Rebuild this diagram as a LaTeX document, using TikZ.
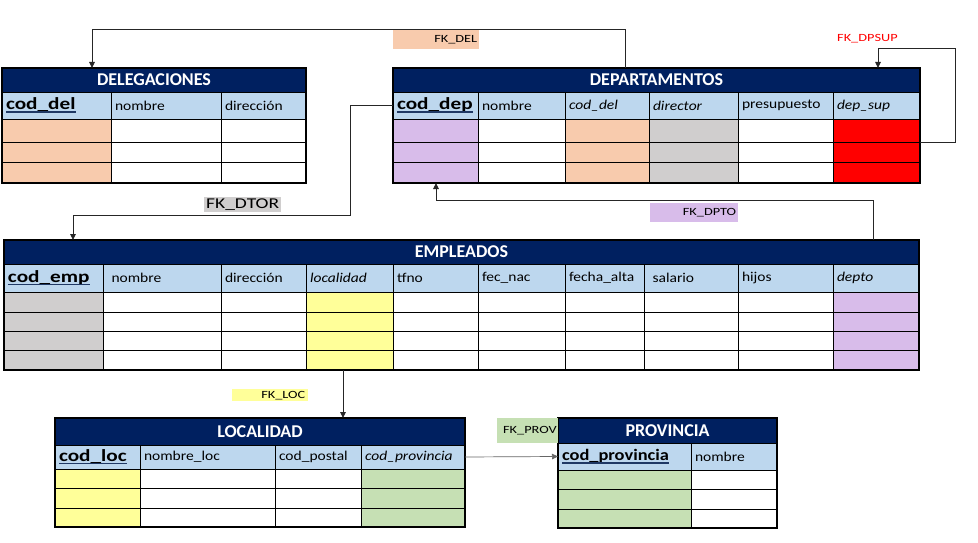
\documentclass[tikz,border=0pt]{standalone}
\usepackage{fontspec}
\setmainfont{Carlito}
\newfontfamily\wf[FakeStretch=1.15]{Carlito}
\newfontfamily\kf[FakeStretch=1.25]{Carlito}
\newfontfamily\lf[FakeStretch=1.3]{Carlito}
\usetikzlibrary{arrows.meta,calc}
\definecolor{navy}{HTML}{002060}
\definecolor{lblue}{HTML}{BDD7EE}
\definecolor{peach}{HTML}{F8CBAD}
\definecolor{lilac}{HTML}{D8BCEA}
\definecolor{cgray}{HTML}{D0CECE}
\definecolor{cyellow}{HTML}{FFFF99}
\definecolor{cgreen}{HTML}{C6E0B4}
\definecolor{ulblue}{HTML}{1F3864}
\newcommand\colfont{\wf\fontsize{13.5}{15}\selectfont}
\newcommand\colit{\wf\fontsize{13.5}{15}\selectfont\itshape}
\newcommand\keyfont{\kf\fontsize{17}{19}\selectfont\bfseries}
\newcommand\keyfontsm{\wf\fontsize{16}{18}\selectfont\bfseries}
\newcommand\fkfont{\lf\fontsize{11}{12}\selectfont}
\newcommand\keyul[1]{\setbox0=\hbox{#1}\rlap{\copy0}{\color{ulblue}\rule[-3pt]{\wd0}{1.6pt}}}
% name, x1, y1, x2, y2, fill, font, text
\newcommand\tc[8]{\node[cell, fill=#6, font=#7, minimum width={#4-#2}, minimum height={#5-#3}, text width={#4-#2-8}] (#1) at (#2,#3) {#8};}
\begin{document}
\begin{tikzpicture}[x=1pt,y=-1pt,
  cell/.style={draw=black, line width=0.8pt, anchor=north west, inner xsep=4pt, inner ysep=0pt, align=left, outer sep=0pt},
  hdr/.style={draw=black, line width=0.8pt, fill=navy, text=white, font=\fontsize{18}{20}\selectfont\bfseries, anchor=north west, inner sep=0pt, outer sep=0pt},
  fk/.style={draw=black!85, line width=0.9pt, -{Triangle[length=6pt,width=5.5pt]}},
  fklab/.style={anchor=north west, inner sep=0pt, font=\fkfont},
  frame/.style={draw=black, line width=1.3pt}
]
\useasboundingbox[fill=white] (0,0) rectangle (978,543);

% ---------------- DELEGACIONES
\node[hdr, minimum width=304, minimum height=24] (del-h) at (2,68) {DELEGACIONES};
\tc{del-0-1}{2}{92}{111}{119}{lblue}{\keyfont}{\keyul{cod\_del}}
\tc{del-0-2}{111}{92}{221}{119}{lblue}{\colfont}{nombre}
\tc{del-0-3}{221}{92}{306}{119}{lblue}{\colfont}{dirección}
\foreach \r/\ya/\yb in {1/119/142,2/142/162,3/162/183}{
  \foreach \c/\xa/\xb/\f in {1/2/111/peach,2/111/221/white,3/221/306/white}{
    \tc{del-\r-\c}{\xa}{\ya}{\xb}{\yb}{\f}{}{}
  }
}
\draw[frame] (del-h.north west) rectangle (del-3-3.south east);

% ---------------- DEPARTAMENTOS
\node[hdr, minimum width=527, minimum height=24] (dep-h) at (393,68) {DEPARTAMENTOS};
\tc{dep-0-1}{393}{92}{478}{119}{lblue}{\keyfont}{\keyul{cod\_dep}}
\tc{dep-0-2}{478}{92}{565}{119}{lblue}{\colfont}{nombre}
\tc{dep-0-3}{565}{92}{649}{119}{lblue}{\colit}{cod\_del}
\tc{dep-0-4}{649}{92}{738}{119}{lblue}{\colit}{director}
\tc{dep-0-5}{738}{92}{833}{119}{lblue}{\colfont}{presupuesto}
\tc{dep-0-6}{833}{92}{920}{119}{lblue}{\colit}{dep\_sup}
\foreach \r/\ya/\yb in {1/119/142,2/142/162,3/162/183}{
  \foreach \c/\xa/\xb/\f in {1/393/478/lilac,2/478/565/white,3/565/649/peach,4/649/738/cgray,5/738/833/white,6/833/920/red}{
    \tc{dep-\r-\c}{\xa}{\ya}{\xb}{\yb}{\f}{}{}
  }
}
\draw[frame] (dep-h.north west) rectangle (dep-3-6.south east);

% ---------------- EMPLEADOS
\node[hdr, minimum width=915, minimum height=24] (emp-h) at (4,240) {EMPLEADOS};
\tc{emp-0-1}{4}{264}{103}{292}{lblue}{\keyfont}{\keyul{cod\_emp}}
\tc{emp-0-2}{103}{264}{221}{292}{lblue}{\colfont}{\ nombre}
\tc{emp-0-3}{221}{264}{306}{292}{lblue}{\colfont}{dirección}
\tc{emp-0-4}{306}{264}{393}{292}{lblue}{\colit}{localidad}
\tc{emp-0-5}{393}{264}{478}{292}{lblue}{\colfont}{tfno}
\tc{emp-0-6}{478}{264}{565}{292}{lblue}{\colfont}{fec\_nac}
\tc{emp-0-7}{565}{264}{644}{292}{lblue}{\colfont}{fecha\_alta}
\tc{emp-0-8}{644}{264}{738}{292}{lblue}{\colfont}{\ salario}
\tc{emp-0-9}{738}{264}{833}{292}{lblue}{\colfont}{hijos}
\tc{emp-0-10}{833}{264}{919}{292}{lblue}{\colit}{depto}
\foreach \r/\ya/\yb in {1/292/312,2/312/331,3/331/350,4/350/370}{
  \foreach \c/\xa/\xb/\f in {1/4/103/cgray,2/103/221/white,3/221/306/white,4/306/393/cyellow,5/393/478/white,6/478/565/white,7/565/644/white,8/644/738/white,9/738/833/white,10/833/919/lilac}{
    \tc{emp-\r-\c}{\xa}{\ya}{\xb}{\yb}{\f}{}{}
  }
}
\draw[frame] (emp-h.north west) rectangle (emp-4-10.south east);

% ---------------- LOCALIDAD
\node[hdr, minimum width=410, minimum height=27] (loc-h) at (55,418) {LOCALIDAD};
\tc{loc-0-1}{55}{445}{140}{469}{lblue}{\keyfont}{\keyul{cod\_loc}}
\tc{loc-0-2}{140}{445}{275}{469}{lblue}{\colfont}{nombre\_loc}
\tc{loc-0-3}{275}{445}{361}{469}{lblue}{\colfont}{cod\_postal}
\tc{loc-0-4}{361}{445}{465}{469}{lblue}{\colit}{cod\_provincia}
\foreach \r/\ya/\yb in {1/469/488,2/488/508,3/508/527}{
  \foreach \c/\xa/\xb/\f in {1/55/140/cyellow,2/140/275/white,3/275/361/white,4/361/465/cgreen}{
    \tc{loc-\r-\c}{\xa}{\ya}{\xb}{\yb}{\f}{}{}
  }
}
\draw[frame] (loc-h.north west) rectangle (loc-3-4.south east);

% ---------------- PROVINCIA
\node[hdr, minimum width=219, minimum height=25] (prov-h) at (558,418) {PROVINCIA};
\tc{prov-0-1}{558}{443}{691}{470}{lblue}{\keyfontsm}{\keyul{cod\_provincia}}
\tc{prov-0-2}{691}{443}{777}{470}{lblue}{\colfont}{nombre}
\foreach \r/\ya/\yb in {1/470/489,2/489/509,3/509/528}{
  \foreach \c/\xa/\xb/\f in {1/558/691/cgreen,2/691/777/white}{
    \tc{prov-\r-\c}{\xa}{\ya}{\xb}{\yb}{\f}{}{}
  }
}
\draw[frame] (prov-h.north west) rectangle (prov-3-2.south east);

% ---------------- FK labels
\node[fklab, fill=peach, minimum width=86, minimum height=19, text width=82, align=right] (lab-del) at (393,30) {FK\_DEL};
\node[fklab, text=red] (lab-dpsup) at (837,34) {FK\_DPSUP};
\node[fklab, fill=cgray, minimum width=77, minimum height=15, font=\lf\fontsize{15}{16}\selectfont, align=center, text width=77] (lab-dtor) at (204,197) {FK\_DTOR};
\node[fklab, fill=lilac, minimum width=88, minimum height=19, text width=84, align=right] (lab-dpto) at (650,203) {FK\_DPTO};
\node[fklab, fill=cyellow, minimum width=76, minimum height=12, text width=70, align=right] (lab-loc) at (232,389) {FK\_LOC};
\node[fklab, fill=cgreen, minimum width=61, minimum height=25, text width=58, align=right] (lab-prov) at (497,418) {FK\_PROV};

% ---------------- connectors
\draw[fk] ([xshift=232pt]dep-h.north west) -- ++(0,-39) -| ([xshift=90pt]del-h.north west);
\draw[fk] (dep-1-6.south east) -- ++(35,0) -- ++(0,-94) -| ([xshift=-42pt]dep-h.north east);
\draw[fk] (dep-0-1.west) -- ++(-43,0) -- ++(0,109.5) -| ([xshift=69pt]emp-h.north west);
\draw[fk] ([xshift=-46pt]emp-h.north east) -- ++(0,-40) -| ([xshift=43pt]dep-3-1.south west);
\draw[fk] ([xshift=37pt]emp-4-4.south west) -- ([xshift=288pt]loc-h.north west);
\draw[fk, draw=black!60, line width=0.7pt] (loc-0-4.east) -- (prov-0-1.west);
\end{tikzpicture}
\end{document}
